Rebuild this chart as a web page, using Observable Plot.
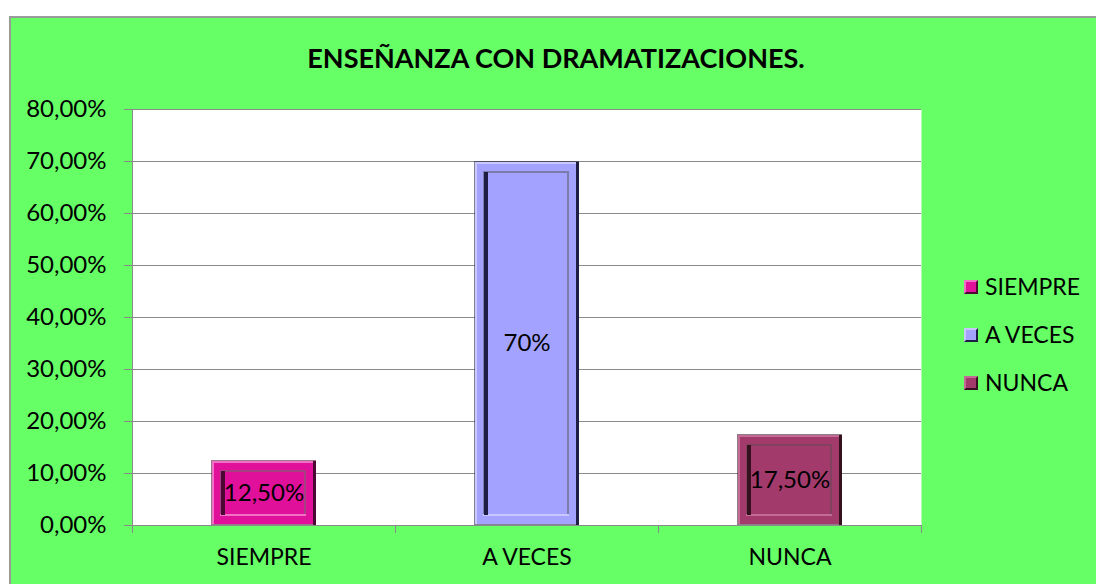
<!DOCTYPE html>
<html>
<head>
<meta charset="utf-8">
<script src="https://cdn.jsdelivr.net/npm/d3@7"></script>
<script src="https://cdn.jsdelivr.net/npm/@observablehq/plot@0.6"></script>
<style>
  html, body { margin: 0; padding: 0; background: #fff; width: 1096px; height: 584px; overflow: hidden; }
  #box { position: absolute; left: 9px; top: 16px; width: 1100px; height: 600px; background: #66ff66;
         border-top: 2px solid #9a9a9a; border-left: 2px solid #9a9a9a; }
  #chart { position: absolute; left: 0; top: 0; }
  #title { position: absolute; left: 0; width: 1112px; top: 41px; text-align: center;
           font: bold 27px Lato, sans-serif; color: #000; }
  #legend { position: absolute; left: 964px; top: 272px; font: 23px Lato, sans-serif; color: #000; }
  .item { height: 48px; display: flex; align-items: flex-start; }
  .sw { width: 14px; height: 14px; margin-top: 8px; margin-right: 7px; box-sizing: border-box;
        border: 2px solid; }
</style>
</head>
<body>
<div id="box"></div>
<div id="title">ENSEÑANZA CON DRAMATIZACIONES.</div>
<div id="chart"></div>
<div id="legend"></div>
<script>
const categories = ["SIEMPRE", "A VECES", "NUNCA"];
const values = [0.125, 0.70, 0.175];
const labels = ["12,50%", "70%", "17,50%"];
const colors = ["#e0109a", "#a3a3ff", "#a33a6c"];
const lights = ["#f070c4", "#c8c8ff", "#c36a95"];
const darks = ["#4a0832", "#1e1e44", "#35101f"];
const yTicks = [0, 0.1, 0.2, 0.3, 0.4, 0.5, 0.6, 0.7, 0.8];

const data = categories.map((c, i) => ({cat: c, v: values[i], label: labels[i], color: colors[i], light: lights[i], dark: darks[i]}));
const fmt = d => (d * 100).toFixed(2).replace(".", ",") + "%";

const bw = 105;     // approx band width in px, used for bevel strip insets
const half = 131.5; // half step in px, category boundary offset

const chart = Plot.plot({
  width: 1096,
  height: 584,
  marginLeft: 132,
  marginRight: 175,
  marginTop: 109,
  marginBottom: 59,
  style: {background: "transparent", fontFamily: "Lato, sans-serif", fontSize: "23px", color: "#000"},
  x: {domain: categories, paddingInner: 0.6, paddingOuter: 0.3, label: null},
  y: {domain: [0, 0.8], label: null},
  marks: [
    Plot.frame({fill: "white", stroke: null}),
    Plot.ruleY(yTicks, {stroke: "#8a8a8a", strokeWidth: 1}),
    Plot.frame({anchor: "left", stroke: "#8a8a8a"}),
    // category boundary ticks
    Plot.ruleX(categories, {y1: 0, y2: 0, insetBottom: -8, dx: -half, stroke: "#8a8a8a"}),
    Plot.ruleX([categories[categories.length - 1]], {y1: 0, y2: 0, insetBottom: -8, dx: half, stroke: "#8a8a8a"}),
    // outer bar edge
    Plot.barY(data, {x: "cat", y: "v", fill: "dark", fillOpacity: 0.55}),
    // outer frame band (lighter on top-left)
    Plot.barY(data, {x: "cat", y: "v", fill: "light", insetTop: 1, insetLeft: 1, insetRight: 3, insetBottom: 1}),
    Plot.barY(data, {x: "cat", y: "v", fill: "color", insetTop: 3, insetLeft: 3, insetRight: 3, insetBottom: 1}),
    // right dark edge
    Plot.barY(data, {x: "cat", y: "v", fill: "dark", insetLeft: bw - 3, insetTop: 1}),
    // inner panel rim: light rim, darker top line, thick dark left shadow
    Plot.barY(data, {x: "cat", y: "v", fill: "light", insetTop: 10, insetLeft: 9, insetRight: 10, insetBottom: 9}),
    Plot.barY(data, {x: "cat", y: "v", fill: "dark", fillOpacity: 0.45, insetTop: 10, insetLeft: 9, insetRight: 10, insetBottom: 11}),
    Plot.barY(data, {x: "cat", y: "v", fill: "color", insetTop: 12, insetLeft: 12, insetRight: 12, insetBottom: 11}),
    Plot.barY(data, {x: "cat", y: "v", fill: "dark", insetTop: 11, insetLeft: 10, insetRight: bw - 14, insetBottom: 10}),
    Plot.text(data, {x: "cat", y: d => d.v / 2, text: "label", fontSize: 24, fill: "#000"}),
    Plot.axisY({ticks: yTicks, tickFormat: fmt, tickSize: 8, tickPadding: 18, stroke: "#8a8a8a", fill: "#000", fontSize: 24}),
    Plot.axisX({tickSize: 0, tickPadding: 23, fill: "#000", fontSize: 23})
  ]
});
document.getElementById("chart").appendChild(chart);

const leg = document.getElementById("legend");
data.forEach(d => {
  const it = document.createElement("div");
  it.className = "item";
  const sw = document.createElement("span");
  sw.className = "sw";
  sw.style.background = d.color;
  sw.style.borderColor = `${d.light} ${d.dark} ${d.dark} ${d.light}`;
  const t = document.createElement("span");
  t.textContent = d.cat;
  it.appendChild(sw); it.appendChild(t);
  leg.appendChild(it);
});
</script>
</body>
</html>
